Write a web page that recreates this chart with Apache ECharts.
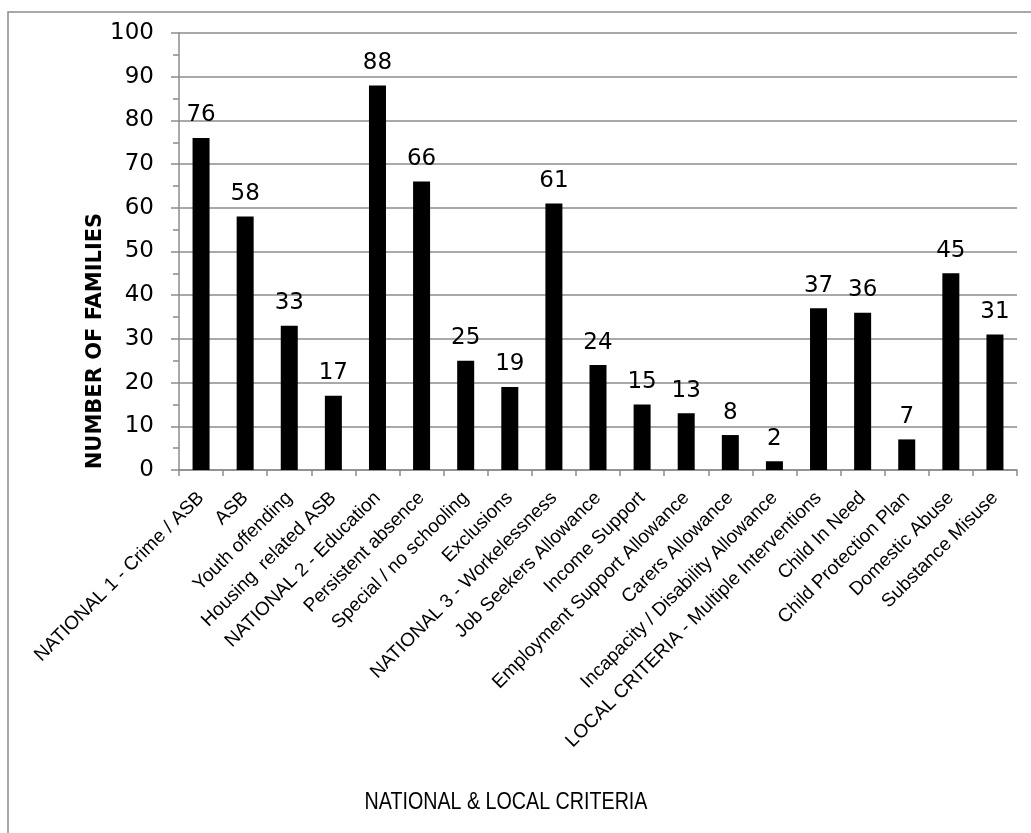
<!DOCTYPE html>
<html>
<head>
<meta charset="utf-8">
<script src="https://cdn.jsdelivr.net/npm/echarts@6/dist/echarts.min.js"></script>
<style>
html,body{margin:0;padding:0;background:#fff;}
#chart{width:1031px;height:833px;}
</style>
</head>
<body>
<div id="chart"></div>
<script>
const categories = [
  "NATIONAL 1 - Crime / ASB",
  "ASB",
  "Youth offending",
  "Housing  related ASB",
  "NATIONAL 2 - Education",
  "Persistent absence",
  "Special / no schooling",
  "Exclusions",
  "NATIONAL 3 - Workelessness",
  "Job Seekers Allowance",
  "Income Support",
  "Employment Support Allowance",
  "Carers Allowance",
  "Incapacity / Disability Allowance",
  "LOCAL CRITERIA - Multiple Interventions",
  "Child In Need",
  "Child Protection Plan",
  "Domestic Abuse",
  "Substance Misuse"
];
const families = [76, 58, 33, 17, 88, 66, 25, 19, 61, 24, 15, 13, 8, 2, 37, 36, 7, 45, 31];
const yTitle = "NUMBER OF FAMILIES";
const xTitle = "NATIONAL & LOCAL CRITERIA";

const chart = echarts.init(document.getElementById('chart'));
const gridColor = '#8c8c8c';
chart.setOption({
  animation: false,
  backgroundColor: '#fff',
  grid: { left: 179, top: 33, right: 14, bottom: 363, containLabel: false },
  xAxis: {
    type: 'category',
    data: categories,
    boundaryGap: true,
    axisLine: { show: true, lineStyle: { color: gridColor, width: 1.5 } },
    axisTick: { show: true, length: 6, lineStyle: { color: gridColor, width: 1.5 } },
    axisLabel: {
      interval: 0, rotate: 45, margin: 25,
      fontFamily: 'Liberation Sans', fontSize: 19, color: '#000'
    }
  },
  yAxis: {
    type: 'value',
    min: 0, max: 100, interval: 10,
    axisLine: { show: true, lineStyle: { color: gridColor, width: 1.5 } },
    axisTick: { show: true, length: 8, lineStyle: { color: gridColor, width: 1.5 } },
    minorTick: { show: true, splitNumber: 2, length: 6, lineStyle: { color: gridColor, width: 1.5 } },
    splitLine: { show: true, lineStyle: { color: gridColor, width: 1.5 } },
    axisLabel: { margin: 25, fontFamily: 'DejaVu Sans', fontSize: 23, color: '#000' }
  },
  series: [{
    type: 'bar',
    data: families,
    barWidth: 17,
    itemStyle: { color: '#000' },
    label: {
      show: true, position: 'top', distance: 11,
      fontFamily: 'DejaVu Sans', fontSize: 23, color: '#000'
    }
  }],
  graphic: [
    { type: 'rect', z: -1, silent: true,
      shape: { x: 8, y: 12, width: 1040, height: 840 },
      style: { fill: 'none', stroke: gridColor, lineWidth: 1.5 } },
    { type: 'text', x: 96, y: 341, rotation: Math.PI / 2,
      style: { text: yTitle, fontFamily: 'DejaVu Sans', fontWeight: 'bold', fontSize: 21,
               fill: '#000', align: 'center', verticalAlign: 'middle' } },
    { type: 'text', x: 506, y: 802, scaleX: 0.82,
      style: { text: xTitle, fontFamily: 'Liberation Sans', fontSize: 24,
               fill: '#000', align: 'center', verticalAlign: 'middle' } }
  ]
});
</script>
</body>
</html>
